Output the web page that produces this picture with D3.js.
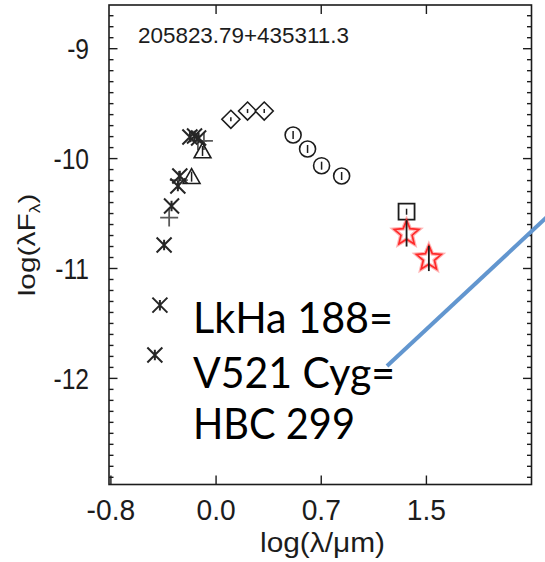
<!DOCTYPE html>
<html>
<head>
<meta charset="utf-8">
<script src="https://cdn.jsdelivr.net/npm/d3@7"></script>
<style>
  html, body { margin: 0; padding: 0; background: #fff; }
  svg { display: block; }
</style>
</head>
<body>
<svg id="chart" width="545" height="562"></svg>
<script>
// Spectral energy distribution of 205823.79+435311.3
// x: log(lambda / micron), y: log(lambda F_lambda)

// optical photometry (asterisks)
const asteriskX = [-0.433, -0.397, -0.367, -0.314, -0.269, -0.255, -0.183, -0.150, -0.121];
const asteriskY = [-11.792, -11.338, -10.791, -10.436, -10.254, -10.163, -9.808, -9.799, -9.817];
// additional optical points (plus signs)
const plusX = [-0.331, -0.262, -0.126, -0.083];
const plusY = [-10.541, -10.200, -9.844, -9.844];
// triangles
const triangleX = [-0.171, -0.093];
const triangleY = [-10.169, -9.935];
// near-infrared (diamonds)
const diamondX = [0.109, 0.228, 0.347];
const diamondY = [-9.647, -9.572, -9.572];
// mid-infrared (circles)
const circleX = [0.553, 0.656, 0.756, 0.899];
const circleY = [-9.790, -9.917, -10.069, -10.163];
// square
const squareX = [1.362];
const squareY = [-10.488];
// far-infrared (red stars) with their error bars
const starX = [1.362, 1.521];
const starY = [-10.685, -10.913];
const starErr = [0.12, 0.115];

// axes
const xTickValues = [-0.75, 0, 0.75, 1.5];
const xTickLabels = ["-0.8", "0.0", "0.7", "1.5"];
const yTickValues = [-9, -10, -11, -12];
const yTickLabels = ["-9", "-10", "-11", "-12"];
const yMinorTicks = d3.range(-129, -86).filter(v => v % 10 !== 0).map(v => v / 10);

const objectName = "205823.79+435311.3";
const noteLines = ["LkHa 188=", "V521 Cyg=", "HBC 299"];

const box = { left: 109, right: 531.5, top: 5, bottom: 484.5 };
const x = d3.scaleLinear().domain([-0.76, 2.253]).range([box.left, box.right]);
const y = d3.scaleLinear().domain([-12.97, -8.607]).range([box.bottom, box.top]);

const svg = d3.select("#chart");
const ink = "#1c1c1c";
const sans = "'Liberation Sans', Arial, Helvetica, sans-serif";

// ---- axes (ticks point inward on all four sides) ----
const gBottom = svg.append("g").attr("transform", `translate(0,${box.bottom})`)
  .call(d3.axisBottom(x).tickValues(xTickValues)
    .tickFormat((d, i) => xTickLabels[i])
    .tickSizeInner(-9).tickSizeOuter(0).tickPadding(14.7));
const gTop = svg.append("g").attr("transform", `translate(0,${box.top})`)
  .call(d3.axisTop(x).tickValues(xTickValues.slice(1))
    .tickFormat("").tickSizeInner(-9).tickSizeOuter(0));
const gLeft = svg.append("g").attr("transform", `translate(${box.left},0)`)
  .call(d3.axisLeft(y).tickValues(yTickValues)
    .tickFormat((d, i) => yTickLabels[i])
    .tickSizeInner(-8.5).tickSizeOuter(0).tickPadding(20));
const gLeftMinor = svg.append("g").attr("transform", `translate(${box.left},0)`)
  .call(d3.axisLeft(y).tickValues(yMinorTicks).tickFormat("")
    .tickSizeInner(-4.5).tickSizeOuter(0));
const gRight = svg.append("g").attr("transform", `translate(${box.right},0)`)
  .call(d3.axisRight(y).tickValues(yTickValues).tickFormat("")
    .tickSizeInner(-8.5).tickSizeOuter(0));
const gRightMinor = svg.append("g").attr("transform", `translate(${box.right},0)`)
  .call(d3.axisRight(y).tickValues(yMinorTicks).tickFormat("")
    .tickSizeInner(-4.5).tickSizeOuter(0));

[gBottom, gTop, gLeft, gLeftMinor, gRight, gRightMinor].forEach(g => {
  g.select(".domain").remove();
  g.selectAll(".tick line").attr("stroke", ink).attr("stroke-width", 1.4);
});

gBottom.selectAll(".tick text")
  .attr("font-family", sans).attr("font-size", 30).attr("fill", ink)
  .attr("transform", "scale(0.94,1)");
gLeft.selectAll(".tick text")
  .attr("font-family", sans).attr("font-size", 30).attr("fill", ink)
  .attr("x", 0).attr("dy", "0.35em")
  .attr("transform", "translate(-20,0) scale(0.82,1)");

// plot frame
svg.append("rect")
  .attr("x", box.left).attr("y", box.top)
  .attr("width", box.right - box.left).attr("height", box.bottom - box.top)
  .attr("fill", "none").attr("stroke", ink).attr("stroke-width", 1.6);

// axis titles
svg.append("text")
  .attr("x", 322.5).attr("y", 552)
  .attr("text-anchor", "middle")
  .attr("font-family", sans).attr("font-size", 27.5).attr("fill", ink)
  .attr("textLength", 125).attr("lengthAdjust", "spacingAndGlyphs")
  .text("log(λ/μm)");

const yTitle = svg.append("text")
  .attr("transform", "translate(35,245) rotate(-90) scale(1.3,1)")
  .attr("text-anchor", "middle")
  .attr("font-family", sans).attr("font-size", 23).attr("fill", ink);
yTitle.append("tspan").text("log(λF");
yTitle.append("tspan").attr("font-size", 15).attr("dy", 5).text("λ");
yTitle.append("tspan").attr("dy", -5).text(")");

// object name
svg.append("text")
  .attr("x", 138).attr("y", 43)
  .attr("font-family", sans).attr("font-size", 22.5).attr("fill", ink)
  .attr("textLength", 211).attr("lengthAdjust", "spacingAndGlyphs")
  .text(objectName);

// ---- marker shapes ----
const shapes = {
  asterisk: { draw(c, s) { const r = Math.sqrt(s);
    c.moveTo(-r, -r); c.lineTo(r, r); c.moveTo(-r, r); c.lineTo(r, -r);
    c.moveTo(0, -r * 0.7); c.lineTo(0, r * 0.7); } },
  plus: { draw(c, s) { const r = Math.sqrt(s);
    c.moveTo(-r, 0); c.lineTo(r, 0); c.moveTo(0, -r); c.lineTo(0, r); } },
  triangle: { draw(c, s) { const r = Math.sqrt(s);
    c.moveTo(0, -r); c.lineTo(r * 1.05, r * 0.85); c.lineTo(-r * 1.05, r * 0.85); c.closePath(); } },
  diamond: { draw(c, s) { const r = Math.sqrt(s);
    c.moveTo(0, -r); c.lineTo(r, 0); c.lineTo(0, r); c.lineTo(-r, 0); c.closePath(); } },
  square: { draw(c, s) { const r = Math.sqrt(s);
    c.rect(-r, -r, 2 * r, 2 * r); } },
  circle: { draw(c, s) { const r = Math.sqrt(s);
    c.moveTo(r, 0); c.arc(0, 0, r, 0, 2 * Math.PI); } },
  star: { draw(c, s) { const R = Math.sqrt(s), r0 = R * 0.45;
    for (let i = 0; i < 10; i++) {
      const a = -Math.PI / 2 + i * Math.PI / 5, rr = i % 2 ? r0 : R;
      const px = rr * Math.cos(a), py = rr * Math.sin(a);
      i ? c.lineTo(px, py) : c.moveTo(px, py);
    }
    c.closePath(); } }
};

function drawSeries(xs, ys, type, half, opts) {
  const sym = d3.symbol().type(shapes[type]).size(half * half);
  const g = svg.append("g");
  g.selectAll("path").data(xs.map((v, i) => [v, ys[i]])).join("path")
    .attr("transform", d => `translate(${x(d[0])},${y(d[1])})`)
    .attr("d", sym)
    .attr("fill", opts.fill || "none")
    .attr("stroke", opts.stroke || ink)
    .attr("stroke-width", opts.width || 1.6)
    .attr("stroke-linejoin", "miter");
  if (opts.tick) {
    g.selectAll("line").data(xs.map((v, i) => [v, ys[i]])).join("line")
      .attr("x1", d => x(d[0])).attr("x2", d => x(d[0]))
      .attr("y1", d => y(d[1]) - opts.tick).attr("y2", d => y(d[1]) + opts.tick)
      .attr("stroke", ink).attr("stroke-width", 1.5);
  }
  return g;
}

drawSeries(plusX, plusY, "plus", 9, { stroke: "#5a5a5a", width: 1.8 });
drawSeries(triangleX, triangleY, "triangle", 8, { stroke: ink, width: 1.6, tick: 5 });
drawSeries(asteriskX, asteriskY, "asterisk", 7.5, { stroke: "#262626", width: 2 });
drawSeries(diamondX, diamondY, "diamond", 9, { stroke: ink, width: 1.6, fill: "#fff", tick: 2 });
drawSeries(circleX, circleY, "circle", 8, { stroke: ink, width: 1.6, fill: "#fff", tick: 4 });
drawSeries(squareX, squareY, "square", 8, { stroke: ink, width: 1.8, fill: "#fff", tick: 3 });

// red stars: soft halo, outline, then error bars on top
drawSeries(starX, starY, "star", 13, { stroke: "rgba(255,40,40,0.35)", width: 4 });
drawSeries(starX, starY, "star", 13, { stroke: "#ff2a2a", width: 1.7 });
svg.append("g").selectAll("line").data(starX.map((v, i) => [v, starY[i], starErr[i]])).join("line")
  .attr("x1", d => x(d[0])).attr("x2", d => x(d[0]))
  .attr("y1", d => y(d[1] + d[2])).attr("y2", d => y(d[1] - d[2]))
  .attr("stroke", ink).attr("stroke-width", 1.8);

// ---- annotation ----
const noteFont = "Lato, 'Open Sans', sans-serif";
const noteBaselines = [333, 388.3, 439.3];
const noteWidths = [200, 202, 162];
svg.append("g").selectAll("text").data(noteLines).join("text")
  .attr("x", 193).attr("y", (d, i) => noteBaselines[i])
  .attr("font-family", noteFont).attr("font-size", 42).attr("fill", "#000")
  .attr("textLength", (d, i) => noteWidths[i]).attr("lengthAdjust", "spacingAndGlyphs")
  .text(d => d);

svg.append("line")
  .attr("x1", 387).attr("y1", 366).attr("x2", 548).attr("y2", 216)
  .attr("stroke", "#6296cf").attr("stroke-width", 4);
</script>
</body>
</html>
